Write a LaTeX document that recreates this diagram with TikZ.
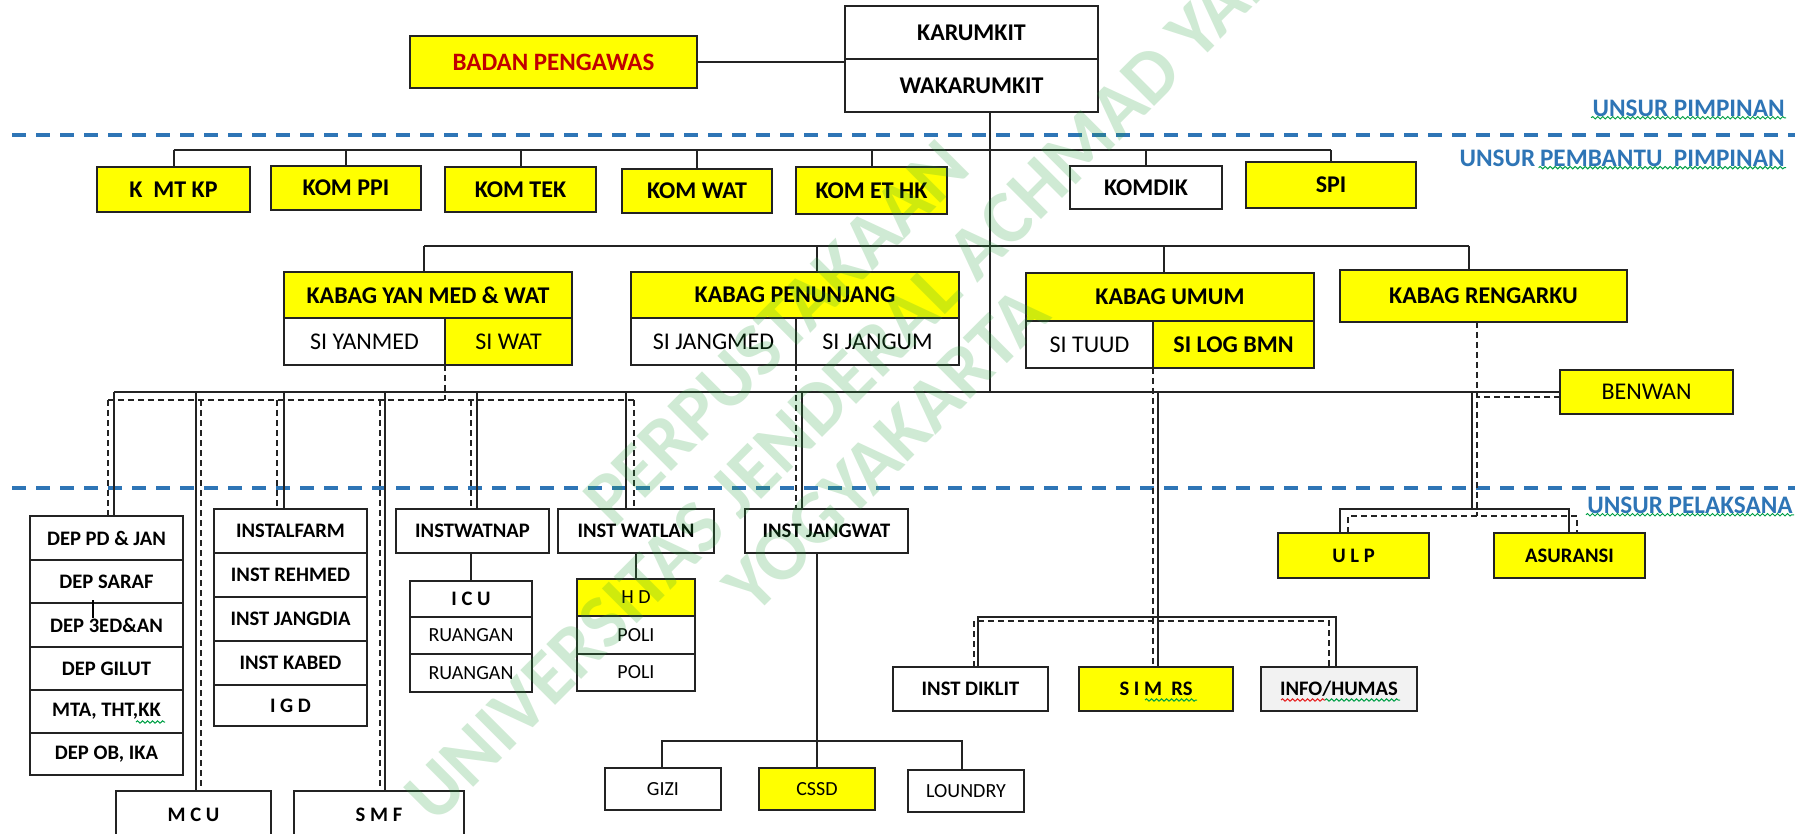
\documentclass[tikz,border=0pt]{standalone}
\usepackage{fontspec}
\setmainfont{Carlito}
\usetikzlibrary{decorations.pathmorphing}
\definecolor{ybox}{RGB}{255,255,0}
\definecolor{bpred}{RGB}{192,0,0}
\definecolor{ublue}{RGB}{46,117,182}
\definecolor{wgreen}{RGB}{40,160,60}
\definecolor{spgreen}{RGB}{0,160,70}
\definecolor{spred}{RGB}{230,30,30}
\definecolor{lgray}{RGB}{35,35,35}
\definecolor{infofill}{RGB}{242,242,242}
\newcommand{\bx}[7]{\node[#6, minimum width={(#4-#2)*0.5pt}, minimum height={(#5-#3)*0.5pt}] (#1) at ({(#2+#4)/2},{(#3+#5)/2}) {#7};}
\tikzset{
  bbase/.style={draw=lgray, line width=1.3pt, inner sep=0pt, outer sep=0pt, align=center},
  yb/.style={bbase, fill=ybox},
  wb/.style={bbase, fill=white},
  gb/.style={bbase, fill=infofill},
  fbig/.style={font=\bfseries\fontsize{12}{14}\selectfont},
  fsib/.style={font=\bfseries\fontsize{12}{14}\selectfont},
  fsi/.style={font=\fontsize{12}{14}\selectfont},
  fsm/.style={font=\bfseries\fontsize{10.3}{12}\selectfont},
  fsr/.style={font=\fontsize{10}{12}\selectfont},
  conn/.style={draw=lgray, line width=1pt},
  dconn/.style={draw=lgray, line width=0.9pt, dash pattern=on 3pt off 2pt},
  bluedash/.style={draw=ublue, line width=1.6pt, dash pattern=on 7pt off 5pt},
  ulab/.style={text=ublue, font=\bfseries\fontsize{12.6}{14}\selectfont, anchor=east, inner sep=0.5pt},
  wmark/.style={text=wgreen, text opacity=0.22, font=\bfseries\fontsize{38}{40}\selectfont, rotate=45},
  wavy/.style={draw=spgreen, line width=0.5pt, decorate, decoration={snake, amplitude=0.6pt, segment length=2.5pt}},
  wavyr/.style={wavy, draw=spred},
}
\begin{document}
\begin{tikzpicture}[x=0.5pt,y=-0.5pt]
\useasboundingbox (0,0) rectangle (1811,834);
\fill[white] (0,0) rectangle (1811,834);
% section lines
\draw[bluedash] (12,135) -- (1795,135);
\draw[bluedash] (12,488) -- (1795,488);
\node[ulab] (upim) at (1786,108) {UNSUR PIMPINAN};
\node[ulab] (upb2) at (1786,158) {PEMBANTU\ \ PIMPINAN};
\node[ulab] (upb1) at ([xshift=-1pt]upb2.west) {UNSUR};
\node[ulab] (upel) at (1794,505) {UNSUR PELAKSANA};
\draw[wavy] (upim.south west) -- (upim.south east);
\draw[wavy] (upb2.south west) -- (upb2.south east);
\draw[wavy] (upel.south west) -- (upel.south east);

% top
\bx{bp}{410}{36}{697}{88}{yb,font=\bfseries\fontsize{12.5}{14}\selectfont,text=bpred}{BADAN PENGAWAS}
\bx{kar}{845}{6}{1098}{59}{wb,fbig}{KARUMKIT}
\bx{wak}{845}{59}{1098}{112}{wb,fbig}{WAKARUMKIT}
% committees
\bx{kmtkp}{97}{167}{250}{212}{yb,fbig}{K\ \ MT KP}
\bx{komppi}{271}{166}{421}{210}{yb,fbig}{KOM PPI}
\bx{komtek}{445}{167}{596}{212}{yb,fbig}{KOM TEK}
\bx{komwat}{622}{169}{772}{213}{yb,fbig}{KOM WAT}
\bx{kometh}{796}{167}{947}{214}{yb,fbig}{KOM ET HK}
\bx{komdik}{1070}{166}{1222}{209}{wb,fbig}{KOMDIK}
\bx{spi}{1246}{162}{1416}{208}{yb,fbig}{SPI}
% kabag
\bx{kyan}{284}{272}{572}{318}{yb,fbig}{KABAG YAN MED \& WAT}
\bx{siyan}{284}{318}{445}{365}{wb,fsi}{SI YANMED}
\bx{siwat}{445}{318}{572}{365}{yb,fsi}{SI WAT}
\bx{kpen}{631}{272}{959}{318}{yb,fbig}{KABAG PENUNJANG}
\bx{sijm}{631}{318}{796}{365}{wb,fsi}{SI JANGMED}
\bx{sijum}{796}{318}{959}{365}{wb,fsi}{SI JANGUM}
\bx{kumum}{1026}{273}{1314}{321}{yb,fbig}{KABAG UMUM}
\bx{situud}{1026}{321}{1153}{368}{wb,fsi}{SI TUUD}
\bx{silog}{1153}{321}{1314}{368}{yb,fsib}{SI LOG BMN}
\bx{kreng}{1340}{270}{1627}{322}{yb,fbig}{KABAG RENGARKU}
\bx{benwan}{1560}{370}{1733}{414}{yb,fsi}{BENWAN}
% dep stack
\bx{dep1}{30}{516}{183}{560}{wb,fsm}{DEP PD \& JAN}
\bx{dep2}{30}{560}{183}{603}{wb,fsm}{DEP SARAF}
\bx{dep3}{30}{603}{183}{647}{wb,fsm}{DEP 3ED\&AN}
\bx{dep4}{30}{647}{183}{690}{wb,fsm}{DEP GILUT}
\bx{dep5}{30}{690}{183}{733}{wb,fsm}{MTA, THT,KK}
\bx{dep6}{30}{733}{183}{775}{wb,fsm}{DEP OB, IKA}
% inst stack
\bx{inst1}{214}{509}{367}{553}{wb,fsm}{INSTALFARM}
\bx{inst2}{214}{553}{367}{597}{wb,fsm}{INST REHMED}
\bx{inst3}{214}{597}{367}{641}{wb,fsm}{INST JANGDIA}
\bx{inst4}{214}{641}{367}{685}{wb,fsm}{INST KABED}
\bx{inst5}{214}{685}{367}{726}{wb,fsm}{I G D}
\bx{mcu}{116}{791}{271}{838}{wb,fsm}{M C U}
\bx{smf}{294}{791}{464}{838}{wb,fsm}{S M F}
% watnap / watlan / jangwat
\bx{watnap}{396}{509}{549}{553}{wb,fsm}{INSTWATNAP}
\bx{icu1}{410}{581}{532}{617}{wb,fsm}{I C U}
\bx{icu2}{410}{617}{532}{654}{wb,fsr}{RUANGAN}
\bx{icu3}{410}{654}{532}{692}{wb,fsr}{RUANGAN}
\bx{watlan}{558}{509}{714}{553}{wb,fsm}{INST WATLAN}
\bx{hd1}{577}{579}{695}{616}{yb,fsr}{H D}
\bx{hd2}{577}{616}{695}{654}{wb,fsr}{POLI}
\bx{hd3}{577}{654}{695}{691}{wb,fsr}{POLI}
\bx{jangwat}{745}{509}{908}{553}{wb,fsm}{INST JANGWAT}
\bx{gizi}{605}{768}{721}{810}{wb,fsr}{GIZI}
\bx{cssd}{759}{768}{875}{810}{yb,fsr}{CSSD}
\bx{loundry}{908}{770}{1024}{812}{wb,fsr}{LOUNDRY}
\bx{diklit}{893}{667}{1048}{711}{wb,fsm}{INST DIKLIT}
\bx{simrs}{1079}{667}{1233}{711}{yb,fsm}{S I M\ \ RS}
\bx{info}{1261}{667}{1417}{711}{gb,fsm}{INFO/HUMAS}
\bx{ulp}{1278}{533}{1429}{578}{yb,fsm}{U L P}
\bx{asur}{1494}{533}{1645}{578}{yb,fsm}{ASURANSI}

% spelling marks
\draw[wavy] (136,722) -- (165,722);
\draw[wavy] (1145,700) -- (1197,700);
\draw[wavyr] (1281,700) -- (1325,700);
\draw[wavy] (1325,700) -- (1400,700);
\draw[line width=1.1pt] (93,600) -- (93,618);

% connectors top
\draw[conn] (bp.east) -- (bp.east -| kar.west);
\coordinate (cbus) at (0,150);
\draw[conn] (kmtkp.north |- cbus) -- (spi.north |- cbus);
\foreach \n in {kmtkp,komppi,komtek,komwat,kometh,komdik,spi}{\draw[conn] (\n.north) -- (\n.north |- cbus);}
\coordinate (trunk) at (990,392);
\draw[conn] (wak.south -| trunk) -- (trunk);
% kabag bus
\coordinate (dyan) at (424,246);
\coordinate (dpen) at (817,246);
\coordinate (dumum) at (1164,246);
\coordinate (dreng) at (1469,246);
\draw[conn] (dyan) -- (dreng);
\draw[conn] (dyan) -- (dyan |- kyan.north);
\draw[conn] (dpen) -- (dpen |- kpen.north);
\draw[conn] (dumum) -- (dumum |- kumum.north);
\draw[conn] (dreng) -- (dreng |- kreng.north);
% main bus
\coordinate (mleft) at (114,392);
\draw[conn] (mleft) -- (benwan.west);
\foreach \x/\n in {114/dep1,196/mcu,284/inst1,385/smf,477/watnap,626/watlan,802/jangwat,1158/simrs}{
  \coordinate (t\n) at (\x,392);
  \draw[conn] (t\n) -- (t\n |- \n.north);
}
% dashed bus (SI WAT)
\foreach \x/\n in {108/dep1,201/mcu,277/inst1,380/smf,471/watnap,634/watlan}{
  \coordinate (s\n) at (\x,400);
  \draw[dconn] (s\n) -- (s\n |- \n.north);
}
\draw[dconn] (sdep1) -- (swatlan);
\draw[dconn] (siwat.south west) -- (siwat.south west |- sdep1);
% other dashed
\draw[dconn] (sijm.south east) -- (sijm.south east |- jangwat.north);
\draw[dconn] (situud.south east) -- (situud.south east |- simrs.north);
\coordinate (xr) at (1477,516);
\draw[dconn] (kreng.south -| xr) -- (xr);
\coordinate (bw) at ([yshift=-2.5pt]benwan.west);
\draw[dconn] (bw) -- (bw -| xr);
% ULP group
\coordinate (ut) at (1472,392);
\coordinate (ub) at (1472,509);
\draw[conn] (ut) -- (ub);
\coordinate (ul) at (1340,509);
\coordinate (ur) at (1569,509);
\draw[conn] (ul |- ulp.north) -- (ul) -- (ur) -- (ur |- asur.north);
\coordinate (udl) at (1348,516);
\coordinate (udr) at (1577,516);
\draw[dconn] (udl |- ulp.north) -- (udl) -- (udr) -- (udr |- asur.north);
% SIMRS group
\coordinate (sl) at (978,617);
\coordinate (sr) at (1336,617);
\draw[conn] (sl |- diklit.north) -- (sl) -- (sr) -- (sr |- info.north);
\coordinate (sdl) at (974,621);
\coordinate (sdr) at (1329,621);
\draw[dconn] (sdl |- diklit.north) -- (sdl) -- (sdr) -- (sdr |- info.north);
% GIZI group
\coordinate (gl) at (662,741);
\coordinate (gr) at (962,741);
\draw[conn] (cssd.north |- jangwat.south) -- (cssd.north);
\draw[conn] (gl |- gizi.north) -- (gl) -- (gr) -- (gr |- loundry.north);
% sub stacks
\draw[conn] (watnap.south -| icu1.north) -- (icu1.north);
\draw[conn] (watlan.south -| hd1.north) -- (hd1.north);

% watermark
\node[wmark] (wm1) at (776,333) {PERPUSTAKAAN};
\node[wmark] (wm2) at (852,374) {UNIVERSITAS JENDERAL ACHMAD YANI};
\node[wmark] (wm3) at (886,450) {YOGYAKARTA};
\end{tikzpicture}
\end{document}
